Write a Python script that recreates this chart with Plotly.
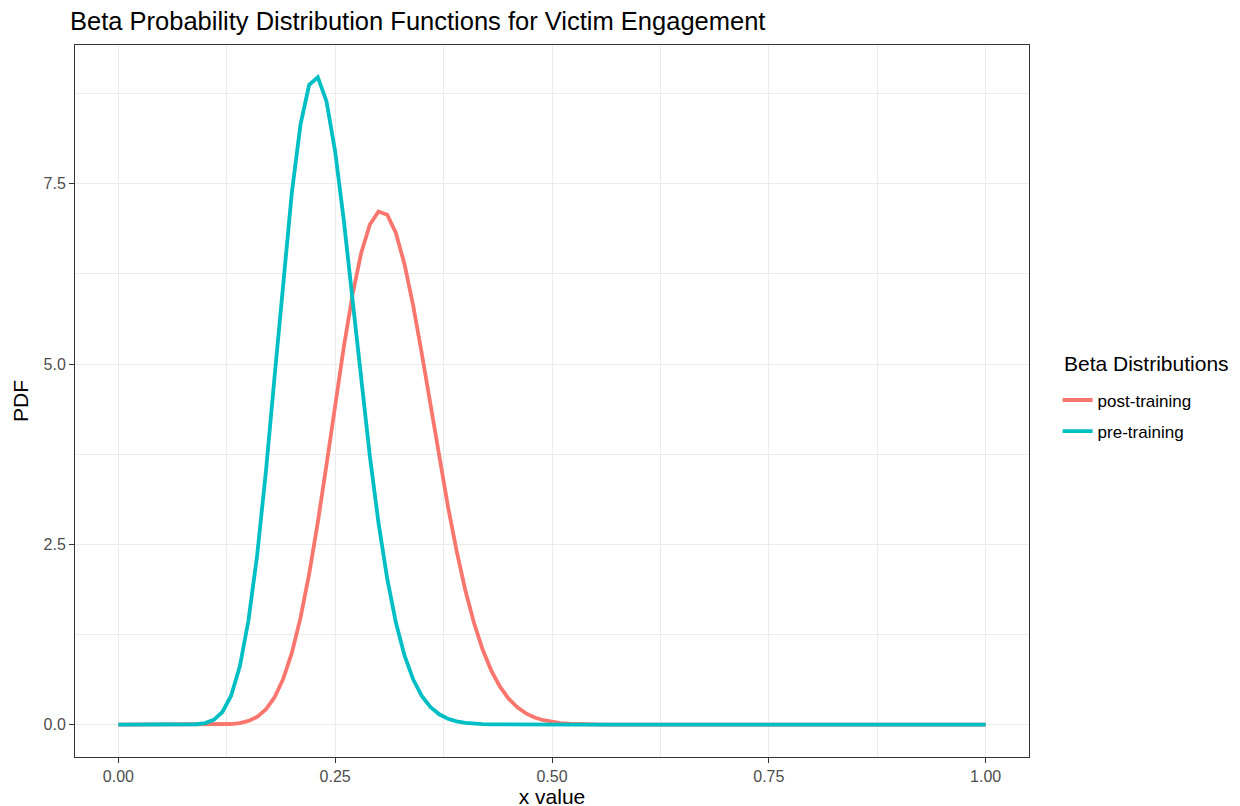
import plotly.graph_objects as go

# x grid (step 0.01)
x_values = [0.00, 0.01, 0.02, 0.03, 0.04, 0.05, 0.06, 0.07, 0.08, 0.09,
            0.10, 0.11, 0.12, 0.13, 0.14, 0.15, 0.16, 0.17, 0.18, 0.19,
            0.20, 0.21, 0.22, 0.23, 0.24, 0.25, 0.26, 0.27, 0.28, 0.29,
            0.30, 0.31, 0.32, 0.33, 0.34, 0.35, 0.36, 0.37, 0.38, 0.39,
            0.40, 0.41, 0.42, 0.43, 0.44, 0.45, 0.46, 0.47, 0.48, 0.49,
            0.50, 0.51, 0.52, 0.53, 0.54, 0.55, 0.56, 0.57, 0.58, 0.59,
            0.60, 0.61, 0.62, 0.63, 0.64, 0.65, 0.66, 0.67, 0.68, 0.69,
            0.70, 0.71, 0.72, 0.73, 0.74, 0.75, 0.76, 0.77, 0.78, 0.79,
            0.80, 0.81, 0.82, 0.83, 0.84, 0.85, 0.86, 0.87, 0.88, 0.89,
            0.90, 0.91, 0.92, 0.93, 0.94, 0.95, 0.96, 0.97, 0.98, 0.99,
            1.00]

post_training = [0, 0, 0, 0, 0, 0, 0, 0, 0, 0.00004,
                 0.0002, 0.0009, 0.0029, 0.0086, 0.0221, 0.0513, 0.1083, 0.2098, 0.3768, 0.6319,
                 0.9953, 1.4807, 2.0895, 2.8078, 3.6050, 4.4350, 5.2406, 5.9617, 6.542, 6.9362,
                 7.115, 7.072, 6.818, 6.382, 5.806, 5.136, 4.4227, 3.7065, 3.0263, 2.4082,
                 1.8680, 1.4129, 1.0421, 0.7497, 0.5260, 0.3599, 0.2402, 0.1563, 0.0991, 0.0613,
                 0.0369, 0.0217, 0.0124, 0.0069, 0.0037, 0.0020, 0.0010, 0.0005, 0.0002, 0.0001,
                 0.00005, 0, 0, 0, 0, 0, 0, 0, 0, 0,
                 0, 0, 0, 0, 0, 0, 0, 0, 0, 0,
                 0, 0, 0, 0, 0, 0, 0, 0, 0, 0,
                 0, 0, 0, 0, 0, 0, 0, 0, 0, 0,
                 0]

pre_training = [0, 0, 0, 0, 0, 0, 0.00002, 0.0002, 0.0011, 0.0055,
                0.0212, 0.0666, 0.1761, 0.4011, 0.8046, 1.4436, 2.3471, 3.4947, 4.8077, 6.1546,
                7.3762, 8.320, 8.872, 8.976, 8.643, 7.944, 6.988, 5.893, 4.774, 3.721,
                2.794, 2.0234, 1.415, 0.956, 0.6247, 0.395, 0.2418, 0.1433, 0.0823, 0.0458,
                0.0247, 0.0129, 0.0065, 0.0032, 0.0015, 0.0007, 0.0003, 0.0001, 0.00005, 0.00002,
                0, 0, 0, 0, 0, 0, 0, 0, 0, 0,
                0, 0, 0, 0, 0, 0, 0, 0, 0, 0,
                0, 0, 0, 0, 0, 0, 0, 0, 0, 0,
                0, 0, 0, 0, 0, 0, 0, 0, 0, 0,
                0, 0, 0, 0, 0, 0, 0, 0, 0, 0,
                0]

series_names = ["post-training", "pre-training"]
series_colors = ["#F8766D", "#00BFC4"]

x_ticks = [0.0, 0.25, 0.5, 0.75, 1.0]
y_ticks = [0.0, 2.5, 5.0, 7.5]

FONT = "Liberation Sans, Arial, Helvetica, sans-serif"

fig = go.Figure()
for name, vals, col in zip(series_names, [post_training, pre_training], series_colors):
    fig.add_trace(go.Scatter(
        x=x_values, y=vals, mode="lines", name=name, legendgroup=name,
        line=dict(color=col, width=3.8),
    ))

axis_common = dict(
    showline=True, mirror=True, linecolor="#333333", linewidth=1,
    ticks="outside", ticklen=5, tickcolor="#333333", tickwidth=1,
    tickfont=dict(family=FONT, size=16, color="#4D4D4D"),
    showgrid=True, gridcolor="#EBEBEB", gridwidth=1.4,
    zeroline=False,
)

fig.update_xaxes(
    **axis_common,
    range=[-0.05, 1.05], tickvals=x_ticks, tickformat=".2f",
    minor=dict(tickvals=[0.125, 0.375, 0.625, 0.875], showgrid=True,
               gridcolor="#EBEBEB", gridwidth=0.8, ticks=""),
    title=dict(text="x value", font=dict(family=FONT, size=21, color="black"), standoff=2),
)
fig.update_yaxes(
    **axis_common,
    range=[-0.4488, 9.4248], tickvals=y_ticks, tickformat=".1f",
    minor=dict(tickvals=[1.25, 3.75, 6.25, 8.75], showgrid=True,
               gridcolor="#EBEBEB", gridwidth=0.8, ticks=""),
    title=dict(text="PDF", font=dict(family=FONT, size=21, color="black"), standoff=9),
)

# page body adds an 8px offset; margins compensate for it
fig.update_layout(
    width=1240, height=806,
    margin=dict(l=62, r=219, t=37, b=57),
    paper_bgcolor="white", plot_bgcolor="white",
    title=dict(text="Beta Probability Distribution Functions for Victim Engagement",
               x=62/1240, xanchor="left", y=1 - 13/806, yanchor="middle",
               font=dict(family=FONT, size=25.5, color="black")),
    legend=dict(
        font=dict(family=FONT, size=17, color="black"),
        x=1.03, xanchor="left", y=0.479, yanchor="middle",
        tracegroupgap=6, bgcolor="rgba(0,0,0,0)",
    ),
    showlegend=True,
    annotations=[dict(
        text="Beta Distributions", xref="paper", yref="paper",
        x=1.0344, y=0.552, xanchor="left", yanchor="middle", showarrow=False,
        font=dict(family=FONT, size=21, color="black"),
    )],
)

fig.write_html("out.html")
